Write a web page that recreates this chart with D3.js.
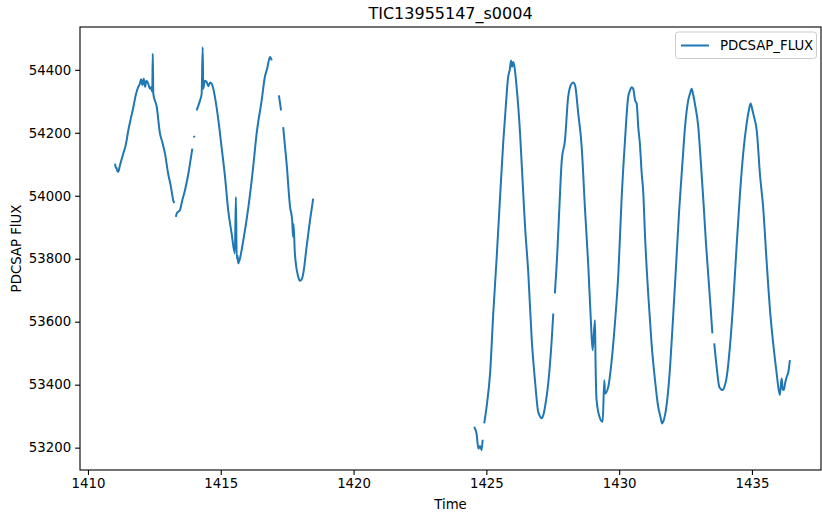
<!DOCTYPE html>
<html>
<head>
<meta charset="utf-8">
<script src="https://cdn.jsdelivr.net/npm/d3@7"></script>
<style>
  html, body { margin: 0; padding: 0; background: #fff; }
  svg { display: block; font-family: "DejaVu Sans", sans-serif; }
</style>
</head>
<body>
<svg id="chart" width="822" height="512"></svg>
<script>
// ---- data (null marks a gap in the series) ----
const chartTitle = "TIC13955147_s0004";
const xLabel = "Time";
const yLabel = "PDCSAP FlUX";
const seriesName = "PDCSAP_FLUX";

const time = [
  1411.02, 1411.05, 1411.07, 1411.10, 1411.14, 1411.20, 1411.33, 1411.42, 1411.52, 1411.60, 1411.71, 1411.80,
  1411.89, 1411.95, 1412.00, 1412.05, 1412.10, 1412.15, 1412.20, 1412.27, 1412.33, 1412.38, 1412.42, 1412.44, 1412.46,
  1412.59, 1412.71, 1412.80, 1412.90, 1413.02, 1413.12, 1413.21, 1413.25, null,
  1413.31, 1413.35, 1413.46, 1413.55, 1413.65, 1413.78, 1413.90, 1413.93, null,
  1413.99, 1414.01, null,
  1414.09, 1414.15, 1414.22, 1414.28, 1414.32, 1414.34, 1414.40, 1414.47, 1414.53, 1414.60, 1414.66, 1414.72,
  1414.78, 1414.91, 1415.03, 1415.16, 1415.28,
  1415.41, 1415.53, 1415.57, 1415.60, 1415.63, 1415.66, 1415.72, 1415.85, 1416.04, 1416.22, 1416.35, 1416.54,
  1416.66, 1416.75, 1416.85, 1416.92, null,
  1417.19, 1417.27, null,
  1417.35, 1417.48, 1417.61, 1417.69, 1417.72, 1417.74, 1417.79, 1417.92, 1417.98, 1418.05, 1418.12, 1418.23,
  1418.36, 1418.48, null,
  1424.54, 1424.63, 1424.70, 1424.76, 1424.82, 1424.86, null,
  1424.92, 1425.01, 1425.14, 1425.26, 1425.39, 1425.51, 1425.64, 1425.73, 1425.82, 1425.88, 1425.93, 1425.97,
  1426.01, 1426.05, 1426.14,
  1426.27, 1426.35, 1426.45, 1426.58, 1426.71, 1426.83, 1426.95, 1427.02, 1427.08, 1427.15, 1427.21, 1427.33,
  1427.46, 1427.52, null,
  1427.58, 1427.67, 1427.75, 1427.84, 1427.96, 1428.08, 1428.15, 1428.21, 1428.27, 1428.34, 1428.46, 1428.59,
  1428.71, 1428.84,
  1428.94, 1429.00, 1429.09, 1429.11, 1429.15, 1429.28, 1429.38, 1429.44, 1429.47, 1429.59, 1429.72, 1429.84,
  1429.97, 1430.09, 1430.22, 1430.34, 1430.41, 1430.47, 1430.53, 1430.60, 1430.66, 1430.72, 1430.78, 1430.85,
  1430.91, 1430.97,
  1431.10, 1431.22, 1431.35, 1431.47, 1431.55, 1431.62, 1431.69, 1431.76, 1431.89, 1432.01, 1432.14, 1432.26,
  1432.39, 1432.48,
  1432.60, 1432.67, 1432.73, 1432.79, 1432.85, 1432.98, 1433.07, 1433.17, 1433.27, 1433.36, 1433.45, 1433.51, null,
  1433.58, 1433.67, 1433.77, 1433.84, 1433.90, 1433.97, 1434.05, 1434.17, 1434.30, 1434.42, 1434.55, 1434.67,
  1434.80, 1434.88, 1434.95, 1435.01,
  1435.08, 1435.18, 1435.30, 1435.43, 1435.55, 1435.68, 1435.80, 1435.93, 1436.05, 1436.09, 1436.12, 1436.16,
  1436.20, 1436.25, 1436.31, 1436.37, 1436.43
];

const flux = [
  54102, 54088, 54090, 54080, 54076, 54095, 54134, 54160, 54208, 54240, 54282, 54320,
  54345, 54355, 54370, 54352, 54372, 54346, 54365, 54356, 54340, 54345, 54330, 54451, 54324,
  54282, 54198, 54170, 54134, 54070, 54030, 53986, 53977, null,
  53933, 53945, 53954, 53985, 54017, 54070, 54134, 54150, null,
  54190, 54185, null,
  54271, 54285, 54303, 54324, 54472, 54340, 54365, 54361, 54348, 54360, 54356, 54340,
  54314, 54240, 54155, 54060, 53954,
  53880, 53817, 53996, 53800, 53810, 53785, 53800, 53859, 53964, 54091, 54197, 54303,
  54377, 54405, 54441, 54430, null,
  54319, 54271, null,
  54218, 54102, 53964, 53922, 53870, 53910, 53817, 53742, 53730, 53735, 53760, 53837,
  53922, 53991, null,
  53266, 53245, 53197, 53205, 53192, 53225, null,
  53277, 53330, 53436, 53626, 53806, 53986, 54176, 54282, 54377, 54400, 54430, 54410,
  54425, 54414, 54345,
  54197, 54070, 53912, 53753, 53541, 53414, 53314, 53300, 53293, 53305, 53330, 53404,
  53541, 53626, null,
  53690, 53817, 53964, 54113, 54176, 54314, 54345, 54356, 54360, 54351, 54261, 54155,
  53964, 53774,
  53594, 53510, 53605, 53480, 53351, 53293, 53282, 53414, 53372, 53393, 53478, 53594,
  53753, 53986, 54176, 54314, 54335, 54345, 54340, 54303, 54293, 54218, 54166, 54070,
  54007, 53880,
  53680, 53531, 53414, 53330, 53300, 53277, 53290, 53319, 53425, 53584, 53774, 53954,
  54113, 54218,
  54303, 54325, 54340, 54320, 54293, 54218, 54113, 53986, 53848, 53742, 53637, 53563, null,
  53531, 53457, 53393, 53385, 53383, 53395, 53425, 53520, 53668, 53837, 54007, 54134,
  54229, 54270, 54293, 54275,
  54250, 54208, 54070, 53954, 53795, 53637, 53531, 53436, 53367, 53400, 53420, 53385,
  53383, 53405, 53425, 53440, 53478
];

const xTicks = [1410, 1415, 1420, 1425, 1430, 1435];
const yTicks = [53200, 53400, 53600, 53800, 54000, 54200, 54400];

// ---- layout ----
const W = 822, H = 512;
const m = { left: 80, right: 821, top: 27, bottom: 470 };
const color = "#1f77b4";

const svg = d3.select("#chart");

const x = d3.scaleLinear().domain([1409.70, 1437.60]).range([m.left, m.right]);
const y = d3.scaleLinear().domain([53129, 54536]).range([m.bottom, m.top]);

const pts = time.map((t, i) => ({ t, f: flux[i] }));

const line = d3.line()
  .defined(d => d.t !== null && d.f !== null)
  .curve(d3.curveMonotoneX)
  .x(d => x(d.t))
  .y(d => y(d.f));

svg.append("defs").append("clipPath").attr("id", "clip")
  .append("rect").attr("x", m.left).attr("y", m.top)
  .attr("width", m.right - m.left).attr("height", m.bottom - m.top);

svg.append("path")
  .datum(pts)
  .attr("clip-path", "url(#clip)")
  .attr("fill", "none")
  .attr("stroke", color)
  .attr("stroke-width", 2)
  .attr("stroke-linejoin", "round")
  .attr("stroke-linecap", "butt")
  .attr("d", line);

// axes
const fontSize = 13.3;
const xAxis = d3.axisBottom(x).tickValues(xTicks).tickFormat(d3.format("d")).tickSize(4.9).tickPadding(4);
const yAxis = d3.axisLeft(y).tickValues(yTicks).tickFormat(d3.format("d")).tickSize(4.9).tickPadding(4);

const gx = svg.append("g").attr("transform", `translate(0,${m.bottom})`).call(xAxis);
const gy = svg.append("g").attr("transform", `translate(${m.left},0)`).call(yAxis);
[gx, gy].forEach(g => {
  g.select(".domain").remove();
  g.selectAll(".tick line").attr("stroke", "#000").attr("stroke-width", 1.1);
  g.selectAll(".tick text").attr("fill", "#000")
    .style("font-family", "DejaVu Sans, sans-serif").style("font-size", fontSize + "px");
});

// frame (spines)
svg.append("rect")
  .attr("x", m.left).attr("y", m.top)
  .attr("width", m.right - m.left).attr("height", m.bottom - m.top)
  .attr("fill", "none").attr("stroke", "#000").attr("stroke-width", 1.1);

// title & labels
svg.append("text")
  .attr("x", (m.left + m.right) / 2).attr("y", 19)
  .attr("text-anchor", "middle")
  .style("font-size", "16px")
  .text(chartTitle);

svg.append("text")
  .attr("x", (m.left + m.right) / 2).attr("y", 509)
  .attr("text-anchor", "middle")
  .style("font-size", fontSize + "px")
  .text(xLabel);

svg.append("text")
  .attr("transform", `translate(21,${(m.top + m.bottom) / 2}) rotate(-90)`)
  .attr("text-anchor", "middle")
  .style("font-size", fontSize + "px")
  .text(yLabel);

// legend
const lg = svg.append("g");
lg.append("rect")
  .attr("x", 675.5).attr("y", 32).attr("width", 141).attr("height", 26.5)
  .attr("rx", 3).attr("ry", 3)
  .attr("fill", "#fff").attr("fill-opacity", 0.8)
  .attr("stroke", "#cccccc").attr("stroke-width", 1);
lg.append("line")
  .attr("x1", 681).attr("x2", 709).attr("y1", 45.5).attr("y2", 45.5)
  .attr("stroke", color).attr("stroke-width", 2);
lg.append("text")
  .attr("x", 720).attr("y", 50.3)
  .style("font-size", fontSize + "px")
  .text(seriesName);
</script>
</body>
</html>
